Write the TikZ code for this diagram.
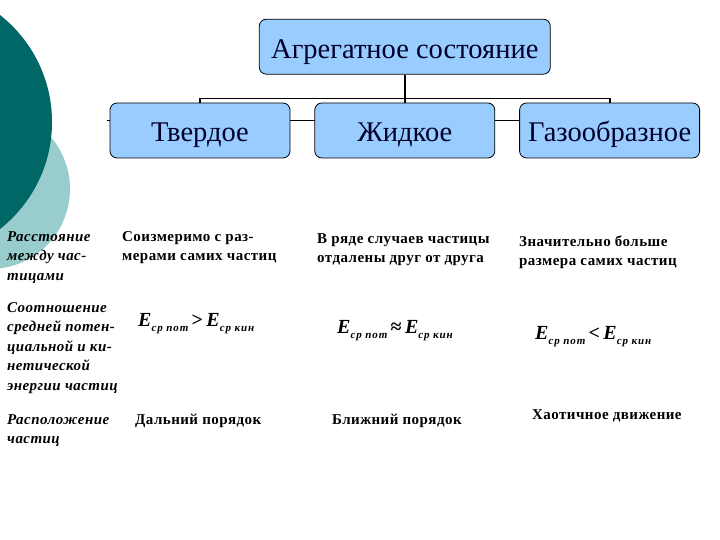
\documentclass[tikz,border=0pt]{standalone}
\usepackage{fontspec}
\setmainfont{Liberation Serif}
\usepackage{xcolor}
\usetikzlibrary{positioning,backgrounds}

\definecolor{tealdark}{RGB}{0,102,102}
\definecolor{teallight}{RGB}{153,204,204}
\definecolor{phasefill}{RGB}{153,204,255}
\definecolor{phaseink}{RGB}{0,0,40}

% E with a lowered subscript
\newcommand{\Ecell}[1]{\textbf{\textit{E}}\raisebox{-5pt}{\fontsize{11}{11}\selectfont\bfseries\itshape\addfontfeatures{LetterSpace=8}#1}}

\begin{document}
\begin{tikzpicture}[
    x=1pt,y=-1pt,
    phase/.style={rectangle,rounded corners=7pt,draw=black,line width=0.8pt,fill=phasefill,
        text=phaseink,minimum width=180pt,minimum height=55pt,inner sep=0pt,
        text height=23pt,text depth=0pt,font=\fontsize{28.5}{28.5}\selectfont},
    rowlab/.style={anchor=base west,align=left,inner sep=0pt,
        font=\fontsize{15}{19.5}\selectfont\bfseries\itshape\addfontfeatures{LetterSpace=3}},
    cell/.style={anchor=base west,align=left,inner sep=0pt,
        font=\fontsize{15}{19}\selectfont\bfseries\addfontfeatures{LetterSpace=3}},
    formula/.style={anchor=base west,inner sep=0pt,font=\fontsize{20}{20}\selectfont},
    link/.style={draw=black,line width=1.8pt},
    node distance=24pt,
]
\useasboundingbox (0,0) rectangle (720,540);

% ---- phases ----
\node[phase] (solid) at (200,130.5) {Твердое};
\node[phase,right=of solid] (liquid) {Жидкое};
\node[phase,right=of liquid] (gas) {Газообразное};
\node[phase,above=28pt of liquid,minimum width=291pt,text height=24pt] (state) {Агрегатное состояние};

% tree links
\draw[link] (state) -- (liquid);
\draw[link] (solid.north) -- ++(0,-4) -| (gas.north);

% ---- background: circles and the thin line behind the boxes ----
\begin{scope}[on background layer]
  \clip (0,0) rectangle (720,540);
  \fill[teallight] (-10,189) circle (80);
  \fill[tealdark] (-84,122) circle (136);
  \coordinate (stub) at (107,120);
  \draw[black,line width=0.8pt] (stub) -- (stub -| gas.west);
\end{scope}

% ---- row labels (anchored at the baseline of the last line) ----
\node[rowlab] (lab1) at (7,280) {Расстояние\\между час-\\тицами};
\node[rowlab] (lab2) at (7,390) {Соотношение\\средней потен-\\циальной и ки-\\нетической\\энергии частиц};
\node[rowlab] (lab3) at (7,443.5) {Расположение\\частиц};

% ---- distance row ----
\node[cell] (d1) at (122,260) {Соизмеримо с раз-\\мерами самих частиц};
\node[cell] (d2) at (317,262) {В ряде случаев частицы\\отдалены друг от друга};
\node[cell] (d3) at (519,265) {Значительно больше\\размера самих частиц};

% ---- energy row ----
\node[formula] (e1) at (138,326) {\Ecell{ср пот}\,\textbf{>}\,\Ecell{ср кин}};
\node[formula] (e2) at (337,333) {\Ecell{ср пот}\,\textbf{≈}\,\Ecell{ср кин}};
\node[formula] (e3) at (535,339) {\Ecell{ср пот}\,\textbf{<}\,\Ecell{ср кин}};

% ---- order row ----
\node[cell] (o1) at (135,424) {Дальний порядок};
\node[cell] (o2) at (332,424) {Ближний порядок};
\node[cell] (o3) at (532,419) {Хаотичное движение};
\end{tikzpicture}
\end{document}
